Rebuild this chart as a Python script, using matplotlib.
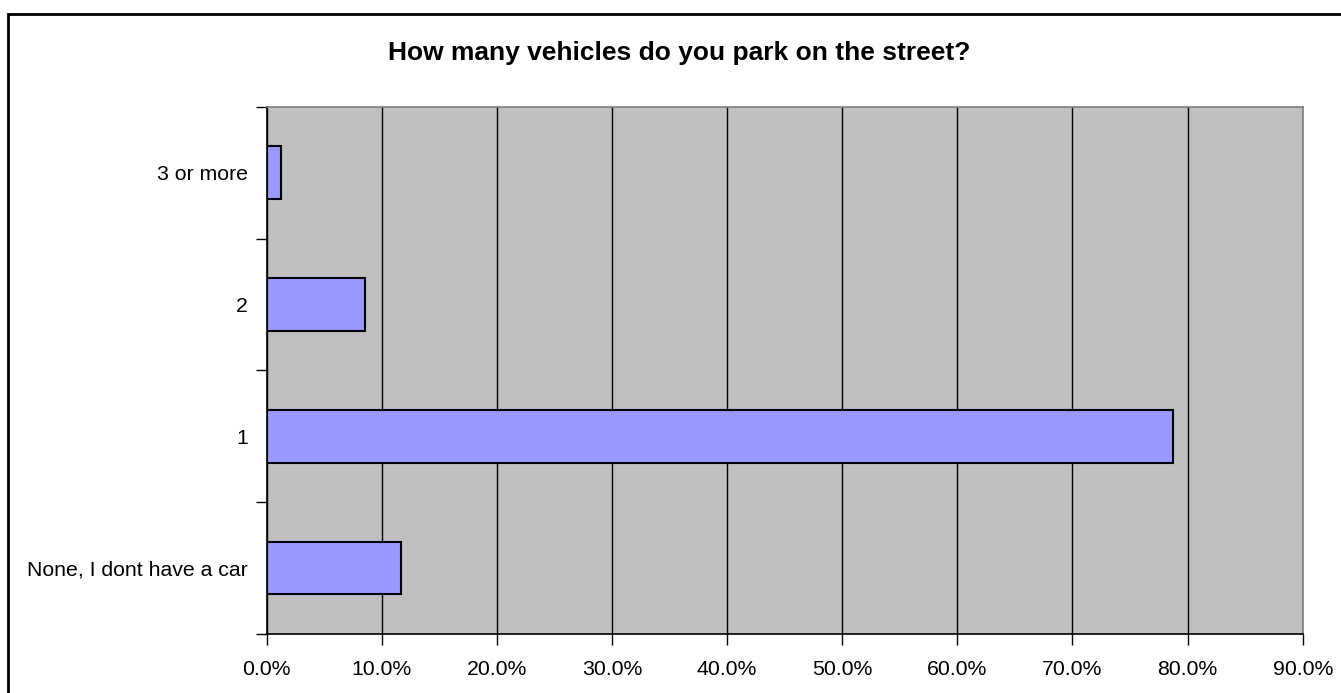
import matplotlib
matplotlib.use("Agg")
import matplotlib.pyplot as plt
from matplotlib.patches import Rectangle
from matplotlib.ticker import FuncFormatter, FixedLocator

plt.rcParams['font.family'] = ['Liberation Sans', 'DejaVu Sans']

# Survey answers, listed bottom to top
categories = ["None, I dont have a car", "1", "2", "3 or more"]
shares = [11.7, 78.7, 8.5, 1.2]  # percent of respondents
x_ticks = [0, 10, 20, 30, 40, 50, 60, 70, 80, 90]
title = "How many vehicles do you park on the street?"

W, H = 1341, 693
fig = plt.figure(figsize=(W / 100, H / 100), dpi=100)
fig.patch.set_facecolor("white")

# Outer chart-area border (runs off the right and bottom edges)
fig.add_artist(Rectangle((8 / W, -0.05), 1.2, (H - 14) / H + 0.05,
                         transform=fig.transFigure, fill=False,
                         edgecolor="black", linewidth=2.0))

left, right = 266.7 / W, 1302.7 / W
top, bottom = (H - 106.7) / H, (H - 634) / H
ax = fig.add_axes([left, bottom, right - left, top - bottom])
ax.set_facecolor("#C0C0C0")

ypos = list(range(len(categories)))
ax.barh(ypos, shares, height=0.4, color="#9999FF", edgecolor="black",
        linewidth=1.5, zorder=3)

ax.set_xlim(0, 90)
ax.set_ylim(-0.5, len(categories) - 0.5)

ax.set_xticks(x_ticks)
ax.xaxis.set_major_formatter(FuncFormatter(lambda v, p: f"{v:.1f}%"))
ax.grid(axis="x", color="black", linewidth=1.0, zorder=1)
ax.set_axisbelow(True)

ax.set_yticks(ypos)
ax.set_yticklabels(categories)
ax.yaxis.set_minor_locator(FixedLocator([i - 0.5 for i in range(len(categories) + 1)]))
ax.tick_params(axis="y", which="major", length=0, pad=13.5, labelsize=15.3)
ax.tick_params(axis="y", which="minor", length=8, width=1, color="black")
ax.tick_params(axis="x", which="major", length=8, width=1, color="black",
               pad=11, labelsize=15.3)

for side in ("left", "bottom"):
    ax.spines[side].set_color("black")
    ax.spines[side].set_linewidth(1.2)
for side in ("top", "right"):
    ax.spines[side].set_color("#808080")
    ax.spines[side].set_linewidth(1.2)

fig.text(679.5 / W, (H - 60) / H, title, ha="center", va="baseline",
         fontsize=19, fontweight="bold")

fig.savefig("out.png", dpi=100)
